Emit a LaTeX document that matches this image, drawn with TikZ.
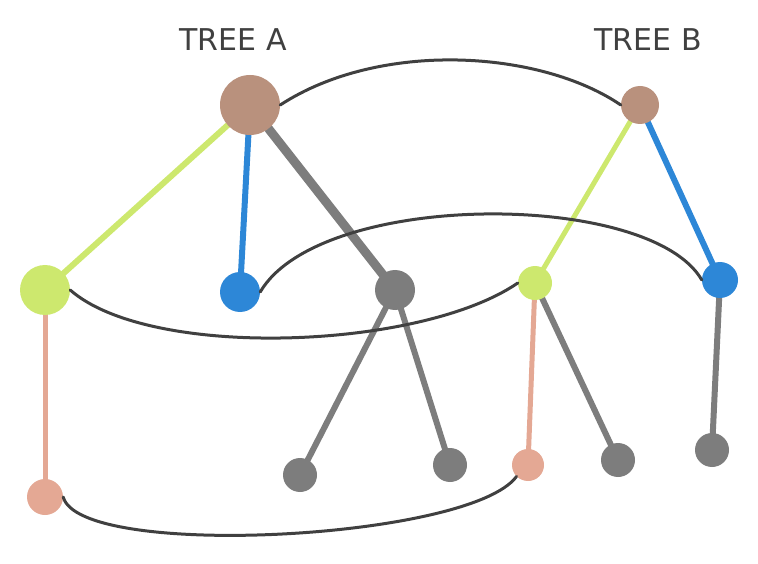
\documentclass[tikz,border=0pt]{standalone}
\usepackage{fontspec}
\setmainfont{DejaVu Sans}
\usetikzlibrary{backgrounds}
\begin{document}
\begin{tikzpicture}[x=1pt,y=-1pt,
  brn/.style={circle,fill=cbrn,inner sep=0pt},
  grn/.style={circle,fill=cgrn,inner sep=0pt},
  blu/.style={circle,fill=cblu,inner sep=0pt},
  gry/.style={circle,fill=cgry,inner sep=0pt},
  pnk/.style={circle,fill=cpnk,inner sep=0pt},
  link/.style={draw=black!75,line width=3pt,line cap=round},
  lbl/.style={font=\fontsize{30}{30}\selectfont,text=black!75}]
\definecolor{cbrn}{RGB}{185,145,125}
\definecolor{cgrn}{RGB}{205,232,110}
\definecolor{cblu}{RGB}{45,135,215}
\definecolor{cgry}{RGB}{125,125,125}
\definecolor{cpnk}{RGB}{228,168,148}
\useasboundingbox (0,0) rectangle (758,564);
\node[lbl] (ta) at (233,40) {TREE A};
\node[lbl] (tb) at (648,40) {TREE B};
\node[brn,minimum size=60] (ra) at (250,105) {};
\node[brn,minimum size=38] (rb) at (640,105) {};
\node[grn,minimum size=50] (ga) at (45,290) {};
\node[blu,minimum size=40] (ba) at (240,292) {};
\node[gry,minimum size=40] (ya) at (395,290) {};
\node[gry,minimum size=34] (l1) at (300,475) {};
\node[gry,minimum size=34] (l2) at (450,465) {};
\node[pnk,minimum size=36] (pa) at (45,497) {};
\node[grn,minimum size=34] (gb) at (535,283) {};
\node[blu,minimum size=36] (bb) at (720,280) {};
\node[pnk,minimum size=32] (pb) at (528,465) {};
\node[gry,minimum size=34] (l3) at (618,460) {};
\node[gry,minimum size=34] (l4) at (712,450) {};
\begin{pgfonlayer}{background}
\draw[cgrn,line width=6pt] (ra.center) -- (ga.center);
\draw[cblu,line width=6pt] (ra.center) -- (ba.center);
\draw[cgry,line width=9pt] (ra.center) -- (ya.center);
\draw[cgry,line width=6pt] (ya.center) -- (l1.center);
\draw[cgry,line width=6pt] (ya.center) -- (l2.center);
\draw[cpnk,line width=5pt] (ga.center) -- (pa.center);
\draw[cgrn,line width=5pt] (rb.center) -- (gb.center);
\draw[cblu,line width=6pt] (rb.center) -- (bb.center);
\draw[cpnk,line width=5pt] (gb.center) -- (pb.center);
\draw[cgry,line width=6pt] (gb.center) -- (l3.center);
\draw[cgry,line width=6pt] (bb.center) -- (l4.center);
\end{pgfonlayer}
\draw[link] (ra.east) .. controls (380,40) and (540,50) .. (rb.west);
\draw[link] (ba.east) .. controls (320,190) and (650,190) .. (bb.west);
\draw[link] (ga.east) .. controls (150,360) and (420,350) .. (gb.west);
\draw[link] (pa.east) .. controls (80,560) and (470,540) .. (pb.south west);
\end{tikzpicture}
\end{document}
